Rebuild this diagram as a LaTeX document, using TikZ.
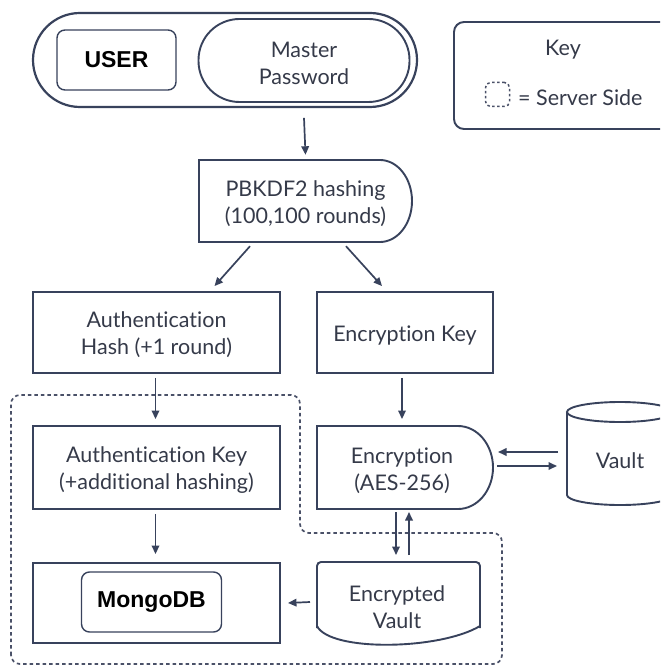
\documentclass[tikz,border=0pt]{standalone}
\usepackage{fontspec}
\setmainfont{Lato}[Ligatures={NoCommon}]
\newfontfamily\arialf{Liberation Sans}
\usetikzlibrary{arrows.meta,calc}
\definecolor{lineC}{HTML}{38425C}
\definecolor{txtC}{HTML}{353A49}
\definecolor{dashC}{HTML}{4A5168}
\begin{document}
\begin{tikzpicture}[x=1pt,y=-1pt,
  shp/.style={draw=lineC, line width=1.9pt, fill=white},
  box/.style={shp, inner sep=0pt},
  lbl/.style={inner sep=0pt, align=center, text=txtC, font=\fontsize{21.5}{27}\selectfont},
  boldbox/.style={shp, inner sep=0pt, rounded corners=8pt, line width=1.4pt, text=black, font=\arialf\bfseries\fontsize{23}{26}\selectfont},
  arr/.style={draw=lineC, line width=1.7pt, -{Triangle[length=8.5pt,width=7.5pt]}},
  server/.style={draw=dashC, line width=1.7pt, dash pattern=on 3.5pt off 3pt, rounded corners=9pt}
]
\useasboundingbox (0,0) rectangle (660,668);
\clip (0,0) rectangle (660,668);
\fill[white] (0,0) rectangle (660,668);

% server side region
\draw[server] (11,664) -- (11,395) -- (300,395) -- (300,533) -- (502,533) -- (502,664) -- cycle;

% key box
\node (keybox) at (563,75.5) [shp, rounded corners=10pt, minimum width=218pt, minimum height=107pt] {};
\node (keyt) at (563,49.5) [lbl] {Key};
\node (keysq) at (497.5,94.5) [draw=dashC, line width=1.5pt, dash pattern=on 2.5pt off 2.5pt, rounded corners=5pt, minimum width=24pt, minimum height=24pt, inner sep=0pt] {};
\node (keyl) at (518,97.5) [lbl, anchor=west] {= Server Side};

% top pill
\node (top) at (225,60) [shp, line width=2.2pt, minimum width=384pt, minimum height=94pt, rounded corners=47pt] {};
\node (user) at (116.5,60) [boldbox, minimum width=119pt, minimum height=60pt] {USER};
\node (mp) at (304,60.5) [box, minimum width=211pt, minimum height=83pt, rounded corners=41pt] {};
\node (mpt) at ([yshift=-2.5pt]mp.center) [lbl] {Master\\Password};

% PBKDF2
\draw[shp] (199,160) -- (380,160) arc[start angle=-90, end angle=90, x radius=32, y radius=41] -- (199,242) -- cycle;
\node (pb) at (305.5,201) [inner sep=0pt, minimum width=213pt, minimum height=82pt] {};
\node (pbt) at ([yshift=-2.5pt]pb.center) [lbl] {PBKDF2 hashing\\(100,100 rounds)};

% second row
\node (ah) at (156.5,332.5) [box, minimum width=247pt, minimum height=81pt] {};
\node (aht) at ([yshift=-2.5pt]ah.center) [lbl] {Authentication\\Hash (+1 round)};
\node (ek) at (405,332.5) [box, minimum width=176pt, minimum height=81pt] {};
\node (ekt) at ([yshift=-2.5pt]ek.center) [lbl] {Encryption Key};

% third row
\node (ak) at (156.5,467.5) [box, minimum width=247pt, minimum height=83pt] {};
\node (akt) at ([yshift=-2.5pt]ak.center) [lbl] {Authentication Key\\(+additional hashing)};
\draw[shp] (317,426) -- (458,426) arc[start angle=-90, end angle=90, x radius=35, y radius=41.5] -- (317,509) -- cycle;
\node (enc) at (402,470.5) [lbl] {Encryption\\(AES-256)};

% vault cylinder
\draw[shp] (567,412) -- (567,495) arc[start angle=180, end angle=0, x radius=53, y radius=10] -- (673,412);
\draw[shp] (620,412) ellipse [x radius=53, y radius=10];
\node (vault) at (620,461) [lbl] {Vault};

% bottom row
\node (mdbo) at (156.5,603) [box, minimum width=247pt, minimum height=80pt] {};
\node (mdb) at (151.5,602) [boldbox, minimum width=140pt, minimum height=60pt] {MongoDB};
\draw[shp, fill=white] (317,626) .. controls (330,652) and (440,650) .. (480,626);
\draw[shp, fill=none, rounded corners=4pt] (317,628) -- (317,562) -- (480,562) -- (480,628);
\node (ev) at (397,607.5) [lbl] {Encrypted\\Vault};

% connectors
\draw[arr] ([yshift=-15pt]mp.south) -- ([yshift=5pt]pb.north);
\draw[arr] ([xshift=-55.5pt,yshift=-4pt]pb.south) -- ([xshift=58pt,yshift=5pt]ah.north);
\draw[arr] ([xshift=40.5pt,yshift=-4pt]pb.south) -- ([xshift=-23pt,yshift=5pt]ek.north);
\draw[arr] ([xshift=-1pt,yshift=-4pt]ah.south) -- ([xshift=-1pt,yshift=6pt]ak.north);
\draw[arr] ([xshift=-3pt,yshift=-4pt]ek.south) -- ([xshift=-3pt,yshift=6pt]ek.south |- ak.north);
\draw[arr] ([xshift=-1pt,yshift=-4pt]ak.south) -- ([xshift=-1pt,yshift=8pt]mdbo.north);
\coordinate (vL) at (558,452);
\coordinate (vL2) at (557,466);
\coordinate (eR) at (498,452);
\coordinate (eR2) at (497,466);
\draw[arr] (vL) -- (eR);
\draw[arr] (eR2) -- (vL2);
\coordinate (eB1) at (396,512);
\coordinate (evT1) at (396,555);
\coordinate (eB2) at (409,512);
\coordinate (evT2) at (409,555);
\draw[arr] (eB1) -- (evT1);
\draw[arr] (evT2) -- (eB2);
\coordinate (evL) at (310,602);
\draw[arr] (evL) -- ([xshift=7pt]mdbo.east);
\end{tikzpicture}
\end{document}
